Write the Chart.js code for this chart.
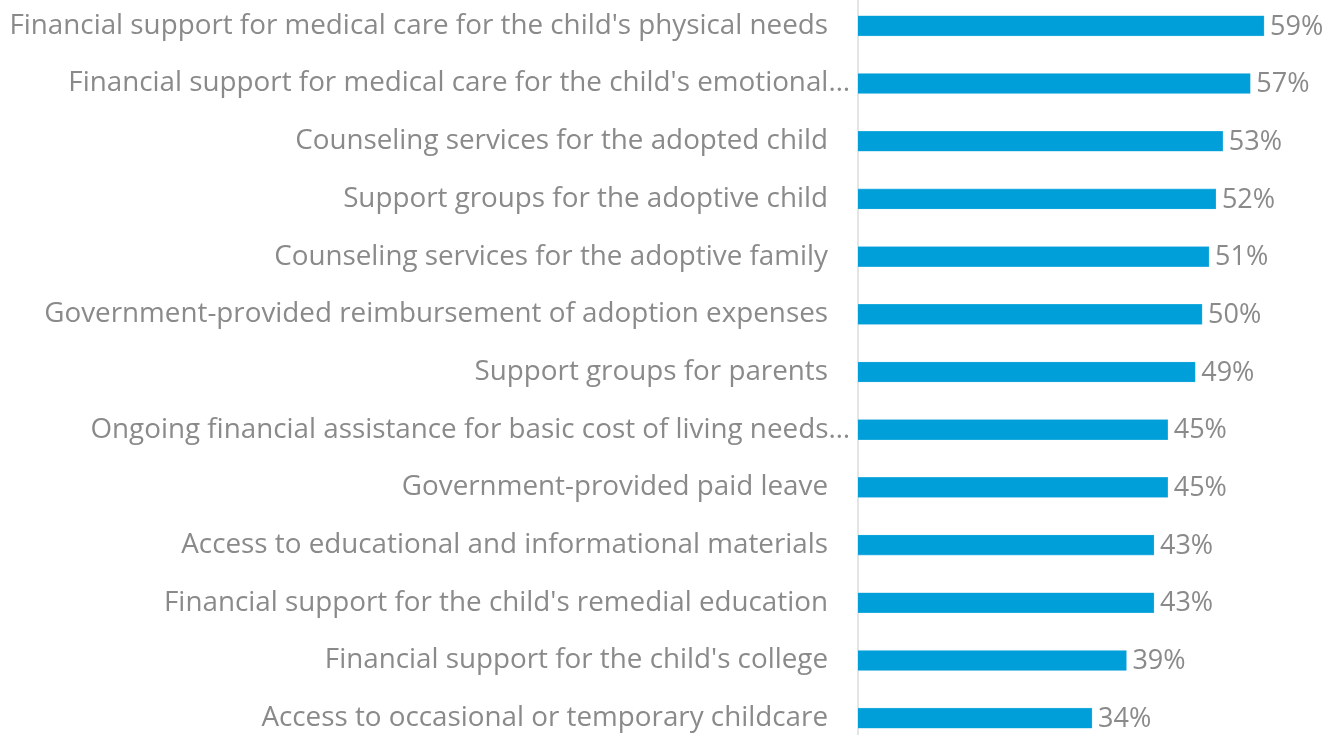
<!DOCTYPE html>
<html>
<head>
<meta charset="utf-8">
<script src="https://cdn.jsdelivr.net/npm/chart.js@4.4.1/dist/chart.umd.min.js"></script>
<style>
  html, body { margin: 0; padding: 0; background: #ffffff; overflow: hidden; }
  #c { position: absolute; left: 0; top: -3px; }
</style>
</head>
<body>
<canvas id="c" width="1328" height="750"></canvas>
<script>
const categories = [
  "Financial support for medical care for the child's physical needs",
  "Financial support for medical care for the child's emotional\u2026",
  "Counseling services for the adopted child",
  "Support groups for the adoptive child",
  "Counseling services for the adoptive family",
  "Government-provided reimbursement of adoption expenses",
  "Support groups for parents",
  "Ongoing financial assistance for basic cost of living needs\u2026",
  "Government-provided paid leave",
  "Access to educational and informational materials",
  "Financial support for the child's remedial education",
  "Financial support for the child's college",
  "Access to occasional or temporary childcare"
];
const values = [59, 57, 53, 52, 51, 50, 49, 45, 45, 43, 43, 39, 34];
const valueLabels = ["59%", "57%", "53%", "52%", "51%", "50%", "49%", "45%", "45%", "43%", "43%", "39%", "34%"];

const FONT = "'Open Sans', 'DejaVu Sans', sans-serif";
const TEXT = '#8a8a8a';
const CAT_SIZE = 27.8;

const valueLabelPlugin = {
  id: 'valueLabels',
  afterDatasetsDraw(chart) {
    const ctx = chart.ctx;
    const meta = chart.getDatasetMeta(0);
    ctx.save();
    ctx.font = "27px " + FONT;
    ctx.fillStyle = TEXT;
    ctx.textAlign = 'left';
    ctx.textBaseline = 'middle';
    meta.data.forEach((bar, i) => {
      ctx.fillText(valueLabels[i], bar.x + 6, bar.y + 1);
    });
    ctx.restore();
  }
};

const ellipsisLabelPlugin = {
  id: 'ellipsisLabels',
  afterDraw(chart) {
    const ctx = chart.ctx;
    const y = chart.scales.y;
    ctx.save();
    ctx.font = CAT_SIZE + "px " + FONT;
    ctx.fillStyle = TEXT;
    ctx.textAlign = 'right';
    ctx.textBaseline = 'middle';
    categories.forEach((lab, i) => {
      if (lab.endsWith('\u2026')) {
        ctx.fillText(lab, y.right - 8, y.getPixelForTick(i));
      }
    });
    ctx.restore();
  }
};

new Chart(document.getElementById('c'), {
  type: 'bar',
  data: {
    labels: categories,
    datasets: [{
      data: values,
      backgroundColor: '#009fda',
      borderColor: '#3fb4e3',
      borderWidth: 0.6,
      barThickness: 20
    }]
  },
  options: {
    indexAxis: 'y',
    responsive: false,
    maintainAspectRatio: false,
    animation: false,
    devicePixelRatio: 1,
    layout: { padding: { left: 0, right: 2, top: 0, bottom: 0 } },
    plugins: { legend: { display: false }, tooltip: { enabled: false } },
    scales: {
      x: {
        display: false,
        min: 0,
        max: 68
      },
      y: {
        offset: true,
        afterFit(scale) { scale.width = 858; scale.paddingTop = 0; scale.paddingBottom = 0; },
        grid: { display: false, drawTicks: false },
        border: { display: true, color: '#e4e4e4', width: 2 },
        ticks: {
          padding: 30,
          autoSkip: false,
          font: { family: FONT, size: CAT_SIZE },
          color: (c) => (categories[c.index] || '').endsWith('\u2026') ? 'rgba(0,0,0,0)' : TEXT
        }
      }
    }
  },
  plugins: [valueLabelPlugin, ellipsisLabelPlugin]
});
</script>
</body>
</html>
